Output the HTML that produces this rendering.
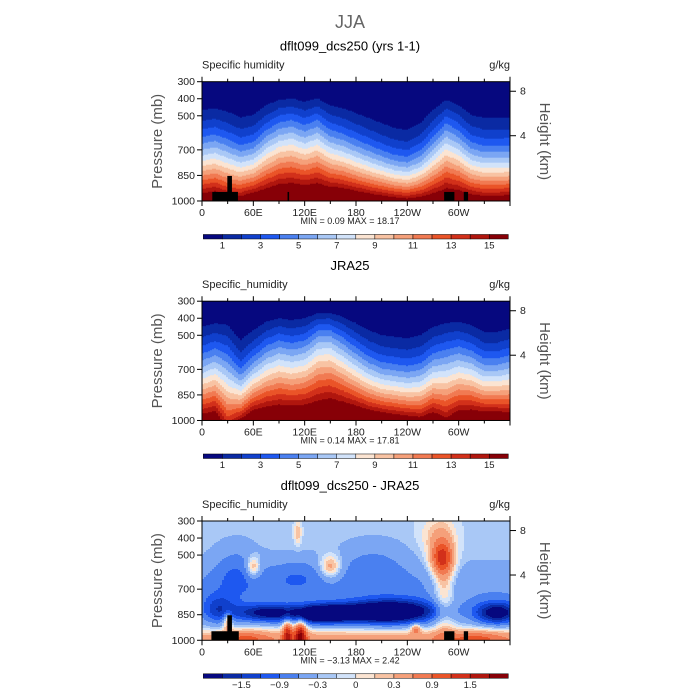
<!DOCTYPE html>
<html><head><meta charset="utf-8">
<style>
html,body{margin:0;padding:0;background:#fff;}
svg{display:block;font-family:"Liberation Sans",sans-serif;}
</style></head>
<body>
<svg id="chart" width="700" height="700" viewBox="0 0 700 700" xmlns="http://www.w3.org/2000/svg"></svg>
<script>
// ---------- data ----------
const lons = [0,15,30,45,60,75,90,105,120,135,150,165,180,195,210,225,240,255,270,285,300,315,330,345,360];
// model panel: surface specific humidity (g/kg) and pressure (mb) of 1 g/kg level
const modelSfcQ = [17,17.5,16.5,16.5,17.5,18,18.5,18.5,18.5,18.5,18.5,18.5,18,17.5,17,16.5,16,16.5,17,17.5,17.5,17,16.5,16.5,17];
const modelDryP = [466,456,476,509,495,437,407,398,417,398,437,456,484,513,543,572,583,543,466,407,437,495,513,513,513];
// JRA25 panel
const obsSfcQ = [16.5,17,13.5,15.5,18,18,18,18,18,18,18.5,18.5,18.5,18,17.5,17,16.5,16,17,15.5,17,17.5,17.5,17.5,17];
const obsDryP = [451,429,440,529,470,421,400,411,400,370,370,392,429,470,500,509,517,500,451,429,421,440,480,480,460];
// difference panel: background plus anomaly blobs
const diffBase = -0.2;
const blobLon = [170,75,140,225,345,20,180,180,100,115,50,320,250,30,280,283,275,60,150,112,40,110,200];
const blobP   = [840,840,850,830,840,820,690,1000,960,970,990,990,930,880,520,700,380,570,570,370,600,620,550];
const blobAmp = [-1.6,-1.4,-1.5,-1.8,-1.9,-1.0,-0.4,0.7,1.3,1.6,0.6,0.6,0.8,1.0,1.2,0.7,0.4,0.9,0.9,0.5,-0.5,-0.4,-0.4];
const blobWLon= [55,25,20,35,18,15,400,400,4,5,20,25,4,4,10,9,15,6,9,3,20,25,30];
const blobWP  = [40,35,35,50,45,60,100,45,70,75,35,35,25,40,70,200,80,45,50,50,120,80,100];
// contour levels & labels
const qLevels = [1,2,3,4,5,6,7,8,9,10,11,12,13,14,15];
const qLabels = ["1","3","5","7","9","11","13","15"];
const qLabelIdx = [0,2,4,6,8,10,12,14];
const dLevels = [-1.8,-1.5,-1.2,-0.9,-0.6,-0.3,-0.15,0,0.15,0.3,0.6,0.9,1.2,1.5,1.8];
const dLabels = ["\u22121.5","\u22120.9","\u22120.3","0","0.3","0.9","1.5"];
const dLabelIdx = [1,3,5,7,9,11,13];
const pTicks = [300,400,500,700,850,1000];
const hTicks = ["8","4"]; const hTickP = [356,617];
const xTickLon = [0,60,120,180,240,300];
const xTickLab = ["0","60E","120E","180","120W","60W"];
const palette = ["#06087f","#0a2aa3","#1040cc","#1e58f0","#4a80f0","#7ba6f3","#a9c8f6","#d2e3fa","#fbe4d2","#f8c3a3","#f5a07a","#f17a52","#ea5428","#d2301a","#b0160e","#870007"];

// ---------- helpers ----------
const svg = document.getElementById('chart');
const NS = 'http://www.w3.org/2000/svg';
function mk(tag, attrs, parent){ const e=document.createElementNS(NS,tag); for(const k in attrs) e.setAttribute(k,attrs[k]); (parent||svg).appendChild(e); return e; }
function txt(x,y,s,size,anchor,fill,parent){ const t=mk('text',{x:x,y:y,'font-size':size,'text-anchor':anchor||'middle',fill:fill||'#000'},parent); t.textContent=s; return t; }
const X0=202, X1=510, W=X1-X0, PT=340;
const xOf = lon => X0 + lon/360*W;
const yOf = (p,top) => top + (p-300)*0.1704;
function interp(arr, lon){ const i=Math.min(Math.floor(lon/15),23); const f=(lon-lons[i])/15; return arr[i]*(1-f)+arr[i+1]*f; }
function qField(sfc, dry){ return (lon,p)=>{ const q0=interp(sfc,lon), p1=interp(dry,lon); const n=Math.log(q0)/Math.log((1000-PT)/(p1-PT)); const x=Math.max(p-PT,0)/(1000-PT); return q0*Math.pow(x,n); }; }
function dField(lon,p){ let v=diffBase; for(let i=0;i<blobLon.length;i++){ const a=(lon-blobLon[i])/blobWLon[i], b=(p-blobP[i])/blobWP[i]; v+=blobAmp[i]*Math.exp(-(a*a+b*b)/2);} return v; }
function colorIdx(v, levels){ let k=0; while(k<levels.length && v>=levels[k]) k++; return k; }

function panel(top, title, varName, field, levels, labels, labelIdx, minmax, topo, key){
  const g = mk('g',{});
  
  
  const tt = txt(350, top-31, title, 13, 'middle', '#000', g);
   
  const vl = txt(X0, top-13, varName, 11, 'start', '#222', g);
   
  const ul = txt(X1, top-13, 'g/kg', 11, 'end', '#222', g);
   
  const fg = mk('g',{},g);
   
  const bottom = yOf(1000, top), H = bottom-top, step=2, NY=Math.ceil(H);
  for(let px=0; px<W; px+=step){
    const lon = (px+step/2)/W*360;
    let runStart=0, runC=-1;
    for(let py=0; py<=NY; py+=1){
      let c=-1;
      if(py<NY){ const p=Math.min(300+(py+0.5)/0.1704,1000); c=colorIdx(field(lon,p),levels); }
      if(c!==runC){
        if(runC>=0){ const h=Math.min(py,H)-runStart;
          const r=mk('rect',{x:X0+px,y:top+runStart,width:Math.min(step,W-px)+0.3,height:h+0.3,fill:palette[runC]},fg);
            }
        runStart=py; runC=c;
      }
    }
  }
  topo.forEach(t=>{ const r=mk('rect',{x:xOf(t[0]),y:yOf(t[2],top),width:xOf(t[1])-xOf(t[0]),height:bottom-yOf(t[2],top),fill:'#000'},g);
      });
  const fr = mk('rect',{x:X0,y:top,width:W,height:H,fill:'none',stroke:'#000','stroke-width':1},g);
   
  for(let lon=0; lon<=360; lon+=30){ const x=xOf(lon), L=(lon%60===0)?5:3;
    mk('line',{x1:x,y1:top,x2:x,y2:top-L,stroke:'#000'},g); mk('line',{x1:x,y1:bottom,x2:x,y2:bottom+L,stroke:'#000'},g); }
  xTickLon.forEach((lon,i)=>{ const t=txt(xOf(lon), bottom+15, xTickLab[i], 10.5, 'middle', '#222', g);
      });
  pTicks.forEach(p=>{ const y=yOf(p,top); mk('line',{x1:X0-5,y1:y,x2:X0,y2:y,stroke:'#000'},g);
    const t=txt(X0-7, y+3.5, String(p), 10.5, 'end', '#222', g);
      });
  hTicks.forEach((h,i)=>{ const y=yOf(hTickP[i],top); mk('line',{x1:X1,y1:y,x2:X1+6,y2:y,stroke:'#000'},g);
    const t=txt(X1+10, y+3.5, h, 10.5, 'start', '#222', g);
      });
  const cy = top + H/2;
  const yt = txt(0,0,'Pressure (mb)',15,'middle','#555',g); yt.setAttribute('transform','translate(162,'+cy+') rotate(-90)');
   
  const ht = txt(0,0,'Height (km)',15,'middle','#555',g); ht.setAttribute('transform','translate(540,'+cy+') rotate(90)');
   
  const mm = txt(350, bottom+23, minmax, 9, 'middle', '#222', g);
   
  const cbY = bottom+33.5, cbX0=203.3, cbW=305/16;
  const cb = mk('g',{},g);  
  palette.forEach((c,i)=>{ const r=mk('rect',{x:cbX0+i*cbW,y:cbY,width:cbW,height:4.5,fill:c,stroke:'#000','stroke-width':0.5},cb);
      });
  labels.forEach((s,i)=>{ const t=txt(cbX0+(labelIdx[i]+1)*cbW, cbY+14, s, 9.5, 'middle', '#222', cb);
      });
}

const jja = txt(350, 28, 'JJA', 18, 'middle', '#666');



const topoModel = [[12,42,947],[29.6,35,853],[100,101.8,947],[283,295,947],[306,311,947]];
const topoDiff = [[11,43,947],[29.6,35,853],[283,295,947],[306,311,947]];
panel(81.7, 'dflt099_dcs250 (yrs 1-1)', 'Specific humidity', qField(modelSfcQ, modelDryP), qLevels, qLabels, qLabelIdx, 'MIN =    0.09   MAX =   18.17', topoModel, 'model');
panel(301.2, 'JRA25', 'Specific_humidity', qField(obsSfcQ, obsDryP), qLevels, qLabels, qLabelIdx, 'MIN =    0.14   MAX =   17.81', [], 'obs');
panel(521, 'dflt099_dcs250 - JRA25', 'Specific_humidity', dField, dLevels, dLabels, dLabelIdx, 'MIN =   \u22123.13   MAX =    2.42', topoDiff, 'diff');
</script>
</body></html>
